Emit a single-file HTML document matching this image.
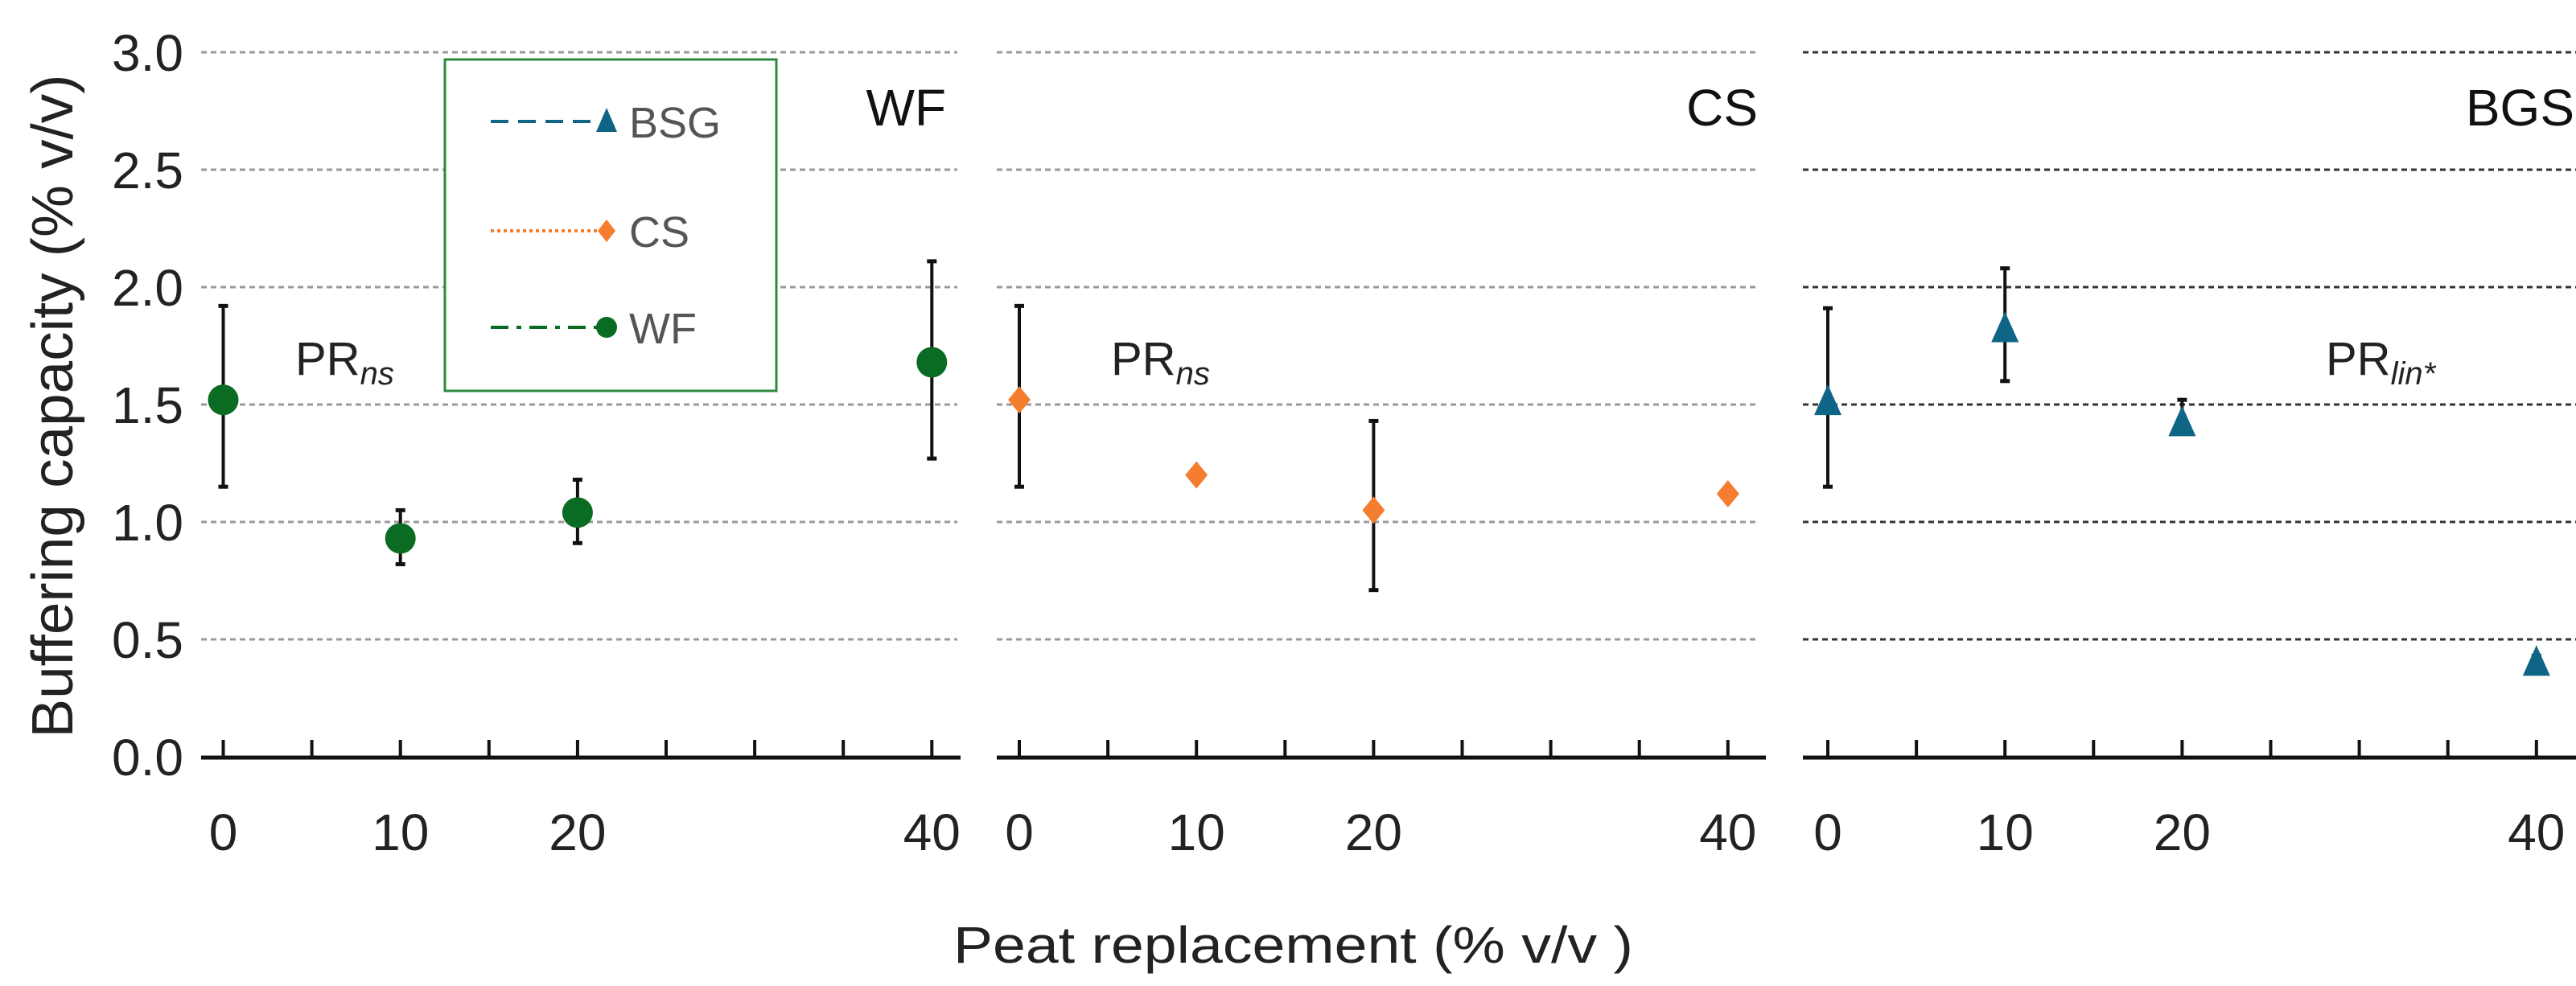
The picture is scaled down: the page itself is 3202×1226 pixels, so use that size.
<!DOCTYPE html>
<html><head><meta charset="utf-8"><style>
html,body{margin:0;padding:0;background:#fff;}
svg{display:block;font-family:"Liberation Sans",sans-serif;}
</style></head><body>
<svg id="chart" width="3202" height="1226" viewBox="0 0 3202 1226"></svg>
<script>
const xCategories=[0,10,20,40];
const wfValues=[1.52,0.93,1.04,1.68];
const wfLow=[1.15,0.82,0.91,1.27];
const wfHigh=[1.92,1.05,1.18,2.11];
const csValues=[1.52,1.20,1.05,1.12];
const csLow=[1.15,null,0.71,null];
const csHigh=[1.92,null,1.43,null];
const bgsValues=[1.51,1.82,1.42,0.40];
const bgsLow=[1.15,1.60,1.38,0.39];
const bgsHigh=[1.91,2.08,1.52,0.43];
const yTicks=[0,0.5,1.0,1.5,2.0,2.5,3.0];
const yTickLabels=["0.0","0.5","1.0","1.5","2.0","2.5","3.0"];
const minorTicks=[0,5,10,15,20,25,30,35,40];

const NS="http://www.w3.org/2000/svg";
const svg=document.getElementById('chart');
function el(tag,attrs,parent){const e=document.createElementNS(NS,tag);for(const k in attrs)e.setAttribute(k,attrs[k]);(parent||svg).appendChild(e);return e;}
const y=v=>941-v*292;

const panels=[
 {name:'wf',title:'WF',x0:277.5,gx0:250,gx1:1190,ax1:1194,vals:wfValues,lo:wfLow,hi:wfHigh,marker:'circle',color:'#0a6b22',grid:'#9a9a9a',pr:'ns',prx:367,titleX:1176},
 {name:'cs',title:'CS',x0:1267,gx0:1239,gx1:2185,ax1:2195,vals:csValues,lo:csLow,hi:csHigh,marker:'diamond',color:'#f57d2f',grid:'#9a9a9a',pr:'ns',prx:1381,titleX:2185},
 {name:'bgs',title:'BGS',x0:2272,gx0:2241,gx1:3202,ax1:3202,vals:bgsValues,lo:bgsLow,hi:bgsHigh,marker:'triangle',color:'#0f6585',grid:'#333',pr:'lin*',prx:2891,titleX:3200}
];

yTicks.forEach((t,i)=>{
 const tx=el('text',{x:228,y:y(t)+23,'text-anchor':'end','font-size':64,fill:'#222'});
 
 
 tx.textContent=yTickLabels[i];
});
const yt=el('text',{x:0,y:0,transform:'translate(90,505) rotate(-90)','text-anchor':'middle','font-size':72,fill:'#222',textLength:825,lengthAdjust:'spacingAndGlyphs'});


yt.textContent='Buffering capacity (% v/v)';

panels.forEach(p=>{
 const g=el('g',{});
 
 
 const sx=v=>p.x0+v*22.02;
 yTicks.slice(1).forEach(t=>{
  const l=el('line',{x1:p.gx0,x2:p.gx1,y1:y(t),y2:y(t),stroke:p.grid,'stroke-width':3,'stroke-dasharray':'7 5'},g);
  
  
 });
 const ax=el('line',{x1:p.gx0,x2:p.ax1,y1:942,y2:942,stroke:'#111','stroke-width':5},g);
 
 
 minorTicks.forEach(t=>{
  const tk=el('line',{x1:sx(t),x2:sx(t),y1:920,y2:942,stroke:'#111','stroke-width':4},g);
  
  
 });
 xCategories.forEach(c=>{
  const tl=el('text',{x:sx(c),y:1057,'text-anchor':'middle','font-size':64,fill:'#222'},g);
  
  
  tl.textContent=c;
 });
 const tt=el('text',{x:p.titleX,y:156,'text-anchor':'end','font-size':64,fill:'#111'},g);
 
 
 tt.textContent=p.title;
 const pr=el('text',{x:p.prx,y:466,'font-size':58,fill:'#222'},g);
 
 
 pr.innerHTML='PR<tspan font-style="italic" font-size="40" dy="12">'+p.pr+'</tspan>';
 p.vals.forEach((v,i)=>{
  const cx=sx(xCategories[i]);
  if(p.lo[i]!=null){
   const eb=el('g',{},g);
   
   
   el('line',{x1:cx,x2:cx,y1:y(p.hi[i]),y2:y(p.lo[i]),stroke:'#111','stroke-width':4},eb);
   el('line',{x1:cx-6,x2:cx+6,y1:y(p.hi[i]),y2:y(p.hi[i]),stroke:'#111','stroke-width':5},eb);
   el('line',{x1:cx-6,x2:cx+6,y1:y(p.lo[i]),y2:y(p.lo[i]),stroke:'#111','stroke-width':5},eb);
  }
  const cy=y(v);let m;
  if(p.marker==='circle') m=el('circle',{cx:cx,cy:cy,r:19,fill:p.color},g);
  else if(p.marker==='diamond') m=el('polygon',{points:`${cx},${cy-17} ${cx+14},${cy} ${cx},${cy+17} ${cx-14},${cy}`,fill:p.color},g);
  else m=el('polygon',{points:`${cx},${cy-22} ${cx+17},${cy+16} ${cx-17},${cy+16}`,fill:p.color},g);
  
  
 });
});

const lg=el('g',{});


el('rect',{x:553,y:74,width:412,height:412,fill:'#fff',stroke:'#2e8b3e','stroke-width':3},lg);
const ents=[
 {label:'BSG',y:151,color:'#0f6585',dash:'22 12',marker:'triangle'},
 {label:'CS',y:287,color:'#f57d2f',dash:'4 4',marker:'diamond'},
 {label:'WF',y:407,color:'#0a6b22',dash:'22 10 6 10',marker:'circle'}
];
ents.forEach(e=>{
 const eg=el('g',{},lg);
 
 
 el('line',{x1:610,x2:745,y1:e.y,y2:e.y,stroke:e.color,'stroke-width':4,'stroke-dasharray':e.dash},eg);
 const cx=754,cy=e.y;
 if(e.marker==='circle') el('circle',{cx:cx,cy:cy,r:13,fill:e.color},eg);
 else if(e.marker==='diamond') el('polygon',{points:`${cx},${cy-14} ${cx+11},${cy} ${cx},${cy+14} ${cx-11},${cy}`,fill:e.color},eg);
 else el('polygon',{points:`${cx},${cy-17} ${cx+13},${cy+13} ${cx-13},${cy+13}`,fill:e.color},eg);
 const t=el('text',{x:782,y:e.y+20,'font-size':54,fill:'#555'},eg);
 t.textContent=e.label;
});

const xt=el('text',{x:1185,y:1197,'font-size':64,fill:'#222',textLength:845,lengthAdjust:'spacingAndGlyphs'});


xt.textContent='Peat replacement (% v/v )';
</script>
</body></html>
